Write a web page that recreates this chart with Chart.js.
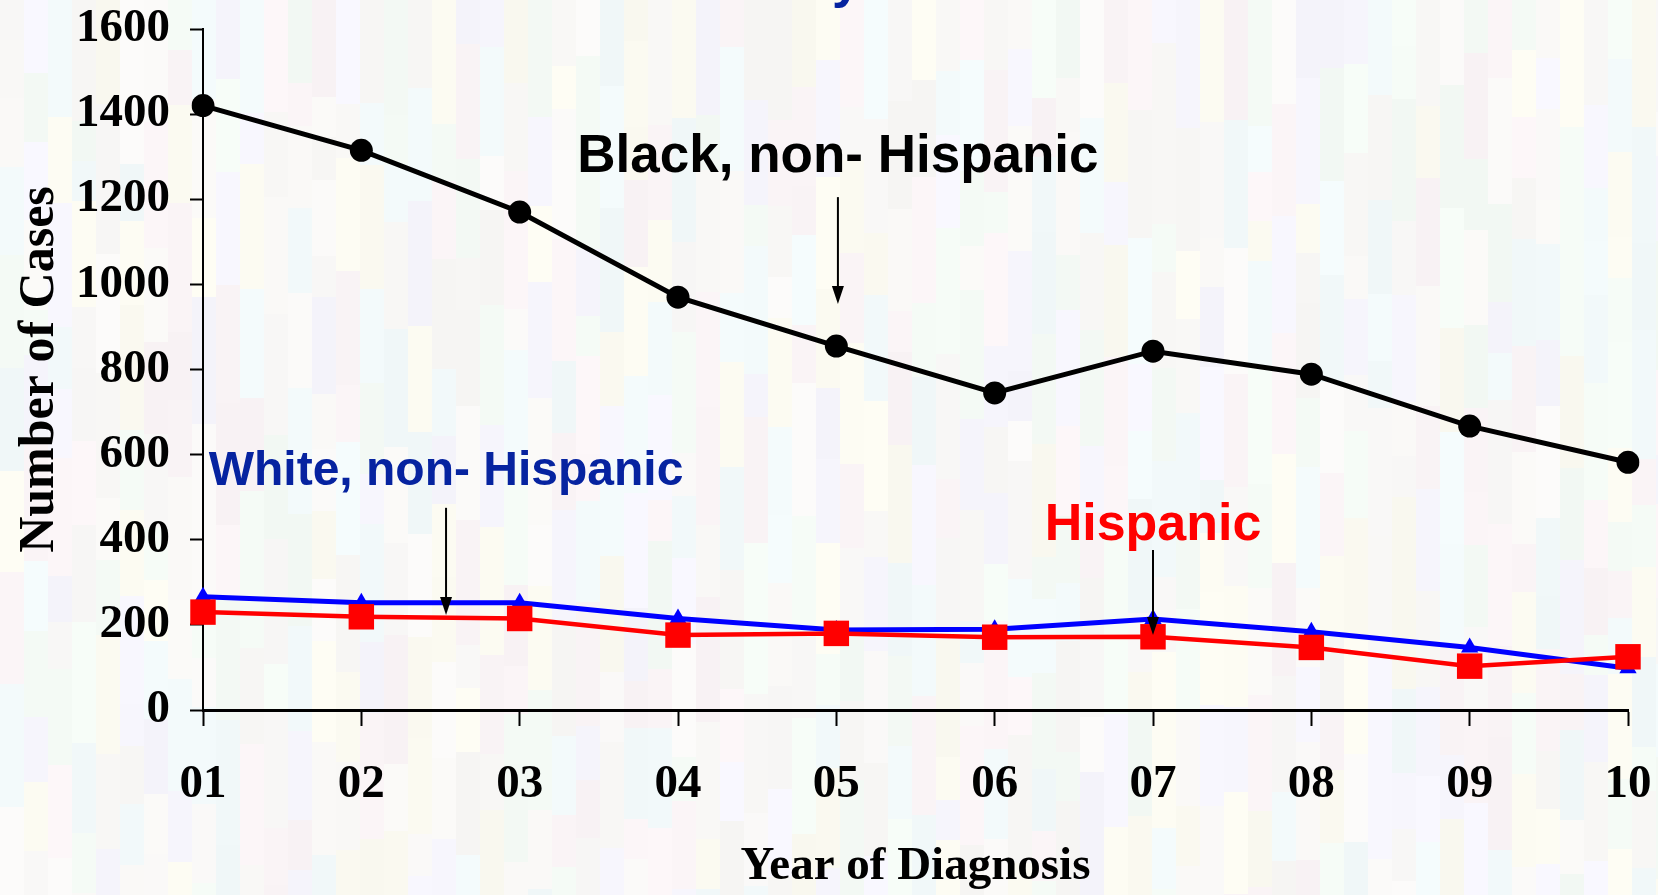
<!DOCTYPE html>
<html lang="en">
<head>
    <meta charset="UTF-8">
    <title>Number of Cases by Year of Diagnosis</title>
    <style>
        body {
            margin: 0;
            background: #f7f5f3;
        }
        #chart {
            display: block;
        }
    </style>
    <script src="https://cdn.jsdelivr.net/npm/chart.js"></script>
</head>
<body>
    <canvas id="chart" width="1658" height="895"></canvas>

    <script>
        // Data
        const years = ['01', '02', '03', '04', '05', '06', '07', '08', '09', '10'];
        const blackNonHispanic = [1420, 1315, 1170, 970, 855, 745, 843, 789, 667, 582];
        const whiteNonHispanic = [266, 252, 252, 215, 188, 190, 214, 184, 147, 98];
        const hispanic = [230, 219, 215, 176, 180, 171, 172, 147, 103, 125];
        const yTicks = [0, 200, 400, 600, 800, 1000, 1200, 1400, 1600];

        // Pastel mosaic behind everything (decoration only)
        const backgroundPlugin = {
            id: 'mosaic',
            beforeDraw(chart) {
                const ctx = chart.ctx;
                let seed = 7;
                function rnd() {
                    seed = (seed * 16807) % 2147483647;
                    return seed / 2147483647;
                }
                const tints = [[251, 245, 247], [245, 251, 246], [247, 246, 253], [252, 251, 242], [243, 250, 251], [249, 248, 246], [250, 249, 248]];
                ctx.save();
                for (let x = 0; x < chart.width; x += 24) {
                    let y = 0;
                    while (y < chart.height) {
                        const h = 40 + Math.floor(rnd() * 90);
                        const t = tints[Math.floor(rnd() * tints.length)];
                        const d = Math.floor(rnd() * 6) - 3;
                        ctx.fillStyle = 'rgb(' + (t[0] + d) + ',' + (t[1] + d) + ',' + (t[2] + d) + ')';
                        ctx.fillRect(x, y, 24, h);
                        y += h;
                    }
                }
                ctx.restore();
            }
        };

        // Series labels and arrows, placed in data units
        const annotations = [
            { text: 'Black, non- Hispanic', color: '#000000', size: 53, x: 4.01, y: 1264, arrow: [4.01, 1205, 954] },
            { text: 'White, non- Hispanic', color: '#0623a0', size: 48, x: 1.535, y: 529, arrow: [1.535, 475, 223] },
            { text: 'Hispanic', color: '#ff0000', size: 52, x: 6, y: 399, arrow: [6, 376, 176] }
        ];

        const labelPlugin = {
            id: 'seriesLabels',
            afterDraw(chart) {
                const ctx = chart.ctx;
                const xs = chart.scales.x;
                const ys = chart.scales.y;
                ctx.save();
                ctx.textAlign = 'center';
                ctx.textBaseline = 'alphabetic';
                annotations.forEach(a => {
                    ctx.font = 'bold ' + a.size + 'px "Liberation Sans", Arial, sans-serif';
                    ctx.fillStyle = a.color;
                    ctx.fillText(a.text, xs.getPixelForValue(a.x), ys.getPixelForValue(a.y));

                    const ax = xs.getPixelForValue(a.arrow[0]);
                    const y1 = ys.getPixelForValue(a.arrow[1]);
                    const y2 = ys.getPixelForValue(a.arrow[2]);
                    ctx.strokeStyle = '#000';
                    ctx.fillStyle = '#000';
                    ctx.lineWidth = 2;
                    ctx.beginPath();
                    ctx.moveTo(ax, y1);
                    ctx.lineTo(ax, y2 - 16);
                    ctx.stroke();
                    ctx.beginPath();
                    ctx.moveTo(ax - 6, y2 - 18);
                    ctx.lineTo(ax + 6, y2 - 18);
                    ctx.lineTo(ax, y2);
                    ctx.closePath();
                    ctx.fill();
                });
                // tail of the cut-off title at the top edge
                ctx.font = 'bold 52px "Liberation Sans", Arial, sans-serif';
                ctx.fillStyle = '#0623a0';
                ctx.textAlign = 'left';
                ctx.fillText('y', 832, -3);
                ctx.restore();
            }
        };

        const serif = '"Liberation Serif", "Times New Roman", serif';

        new Chart(document.getElementById('chart'), {
            type: 'line',
            data: {
                labels: years,
                datasets: [
                    {
                        label: 'Black, non- Hispanic',
                        data: blackNonHispanic,
                        borderColor: '#000000',
                        backgroundColor: '#000000',
                        borderWidth: 5,
                        pointStyle: 'circle',
                        pointRadius: 11.5,
                        pointBorderWidth: 0,
                        tension: 0
                    },
                    {
                        label: 'Hispanic',
                        data: hispanic,
                        borderColor: '#ff0000',
                        backgroundColor: '#ff0000',
                        borderWidth: 4.5,
                        pointStyle: 'rect',
                        pointRadius: 18,
                        pointBorderWidth: 0,
                        tension: 0
                    },
                    {
                        label: 'White, non- Hispanic',
                        data: whiteNonHispanic,
                        borderColor: '#0000ff',
                        backgroundColor: '#0000ff',
                        borderWidth: 5,
                        pointStyle: 'triangle',
                        pointRadius: 10,
                        pointBorderWidth: 0,
                        tension: 0
                    }
                ]
            },
            options: {
                responsive: false,
                devicePixelRatio: 1,
                animation: false,
                layout: {
                    padding: { top: 29, right: 30, left: 0, bottom: 0 }
                },
                plugins: {
                    legend: { display: false },
                    tooltip: { enabled: false }
                },
                scales: {
                    x: {
                        type: 'category',
                        offset: false,
                        afterFit(scale) {
                            scale.height = 185;
                            scale.paddingLeft = 0;
                            scale.paddingRight = 0;
                        },
                        border: { display: true, color: '#000', width: 3 },
                        grid: {
                            drawOnChartArea: false,
                            drawTicks: true,
                            tickLength: 16,
                            tickWidth: 2,
                            tickColor: '#000'
                        },
                        ticks: {
                            color: '#000',
                            padding: 31,
                            maxRotation: 0,
                            autoSkip: false,
                            font: { family: serif, size: 47, weight: 'bold' }
                        },
                        title: {
                            display: true,
                            text: 'Year of Diagnosis',
                            color: '#000',
                            padding: { top: 0, bottom: 0 },
                            font: { family: serif, size: 47, weight: 'bold' }
                        }
                    },
                    y: {
                        min: 0,
                        max: 1600,
                        afterFit(scale) {
                            scale.width = 203;
                            scale.paddingTop = 0;
                            scale.paddingBottom = 0;
                        },
                        afterBuildTicks(scale) {
                            scale.ticks = yTicks.map(v => ({ value: v }));
                        },
                        border: { display: true, color: '#000', width: 2 },
                        grid: {
                            drawOnChartArea: false,
                            drawTicks: true,
                            tickLength: 13,
                            tickWidth: 2,
                            tickColor: '#000'
                        },
                        ticks: {
                            color: '#000',
                            padding: 20,
                            callback: v => String(v),
                            font: { family: serif, size: 47, weight: 'bold' }
                        },
                        title: {
                            display: true,
                            text: 'Number of Cases',
                            color: '#000',
                            padding: { top: 10, bottom: 0 },
                            font: { family: serif, size: 50, weight: 'bold' }
                        }
                    }
                }
            },
            plugins: [backgroundPlugin, labelPlugin]
        });
    </script>
</body>
</html>
